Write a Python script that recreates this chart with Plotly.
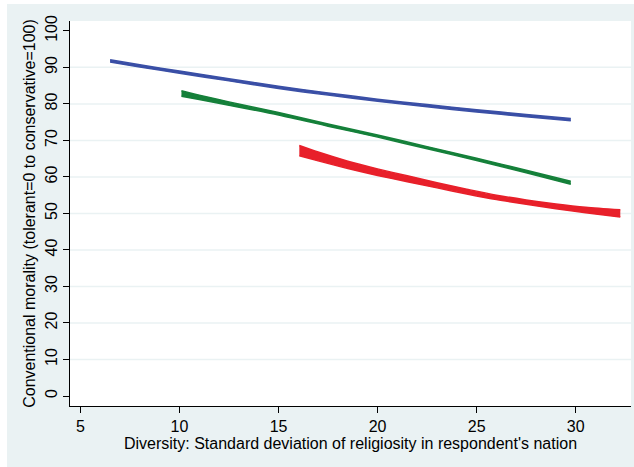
import plotly.graph_objects as go

# ---- data ----
blue_x = [6.5, 8.0, 10.0, 12.5, 15.0, 17.5, 20.0, 22.5, 25.0, 27.5, 29.75]
blue_hi = [92.1, 90.7, 89.0, 86.9, 84.8, 83.0, 81.3, 79.8, 78.4, 77.1, 76.0]
blue_lo = [91.5, 90.1, 88.4, 86.3, 84.2, 82.4, 80.7, 79.2, 77.8, 76.5, 75.4]

green_x = [10.1, 11.0, 12.5, 15.0, 17.5, 20.0, 22.5, 25.0, 27.5, 29.75]
green_hi = [83.6, 82.4, 80.55, 77.65, 74.5, 71.5, 68.3, 65.1, 61.85, 58.8]
green_lo = [82.1, 81.2, 79.65, 76.95, 73.9, 70.9, 67.7, 64.5, 61.15, 58.0]

red_x = [16.05, 17.0, 18.5, 20.0, 21.5, 23.0, 24.5, 26.0, 27.5, 29.0, 30.5, 32.25]
red_hi = [68.6, 66.8, 64.3, 62.2, 60.3, 58.4, 56.65, 55.0, 53.7, 52.6, 51.7, 51.0]
red_lo = [65.8, 64.4, 62.3, 60.4, 58.7, 57.0, 55.35, 53.8, 52.5, 51.3, 50.2, 49.0]

x_ticks = [5, 10, 15, 20, 25, 30]
y_ticks = [0, 10, 20, 30, 40, 50, 60, 70, 80, 90, 100]
grid_vals = [10, 20, 30, 40, 50, 60, 70, 80, 90]

x_title = "Diversity: Standard deviation of religiosity in respondent's nation"
y_title = "Conventional morality (tolerant=0 to conservative=100)"

BLUE = "#3A4FA6"
GREEN = "#15803A"
RED = "#E8202A"
BG = "#EAF2F3"
FONT = "Liberation Sans, Arial, sans-serif"

fig = go.Figure()

for xs, hi, lo, col in [(blue_x, blue_hi, blue_lo, BLUE),
                        (green_x, green_hi, green_lo, GREEN),
                        (red_x, red_hi, red_lo, RED)]:
    fig.add_trace(go.Scatter(
        x=xs, y=lo, mode="lines",
        line=dict(color=col, width=1.5, shape="spline", smoothing=0.8),
        showlegend=False, hoverinfo="skip"))
    fig.add_trace(go.Scatter(
        x=xs, y=hi, mode="lines", fill="tonexty", fillcolor=col,
        line=dict(color=col, width=1.5, shape="spline", smoothing=0.8),
        showlegend=False, hoverinfo="skip"))

shapes = []
for g in grid_vals:
    shapes.append(dict(type="line", xref="paper", yref="y", x0=0, x1=1, y0=g, y1=g,
                       line=dict(color=BG, width=1.5), layer="below"))
# white outer strips (left and top)
shapes.append(dict(type="rect", xref="paper", yref="paper", x0=-0.13, x1=-63/561,
                   y0=-0.2, y1=1.1, fillcolor="white", line=dict(width=0), layer="below"))
shapes.append(dict(type="rect", xref="paper", yref="paper", x0=-0.13, x1=1.1,
                   y0=402/385, y1=1.1, fillcolor="white", line=dict(width=0), layer="below"))

fig.update_layout(
    width=634, height=467,
    margin=dict(l=70, r=3, t=21, b=61),
    paper_bgcolor=BG, plot_bgcolor="white",
    font=dict(family=FONT, size=16, color="black"),
    shapes=shapes,
    xaxis=dict(range=[4.475, 32.79], tickvals=x_ticks, ticks="outside", ticklen=6,
               tickcolor="black", tickwidth=1, showline=True, linecolor="black",
               linewidth=1, showgrid=False, zeroline=False,
               title=dict(text=x_title, standoff=0, font=dict(size=16)),
               tickfont=dict(size=16)),
    yaxis=dict(range=[-2.74, 102.7], tickvals=y_ticks, ticks="outside", ticklen=6,
               tickcolor="black", tickwidth=1, showline=True, linecolor="black",
               linewidth=1, showgrid=False, zeroline=False, tickangle=-90,
               title=dict(text=y_title, standoff=2, font=dict(size=16)),
               tickfont=dict(size=16)),
)

fig.write_html("out.html")
